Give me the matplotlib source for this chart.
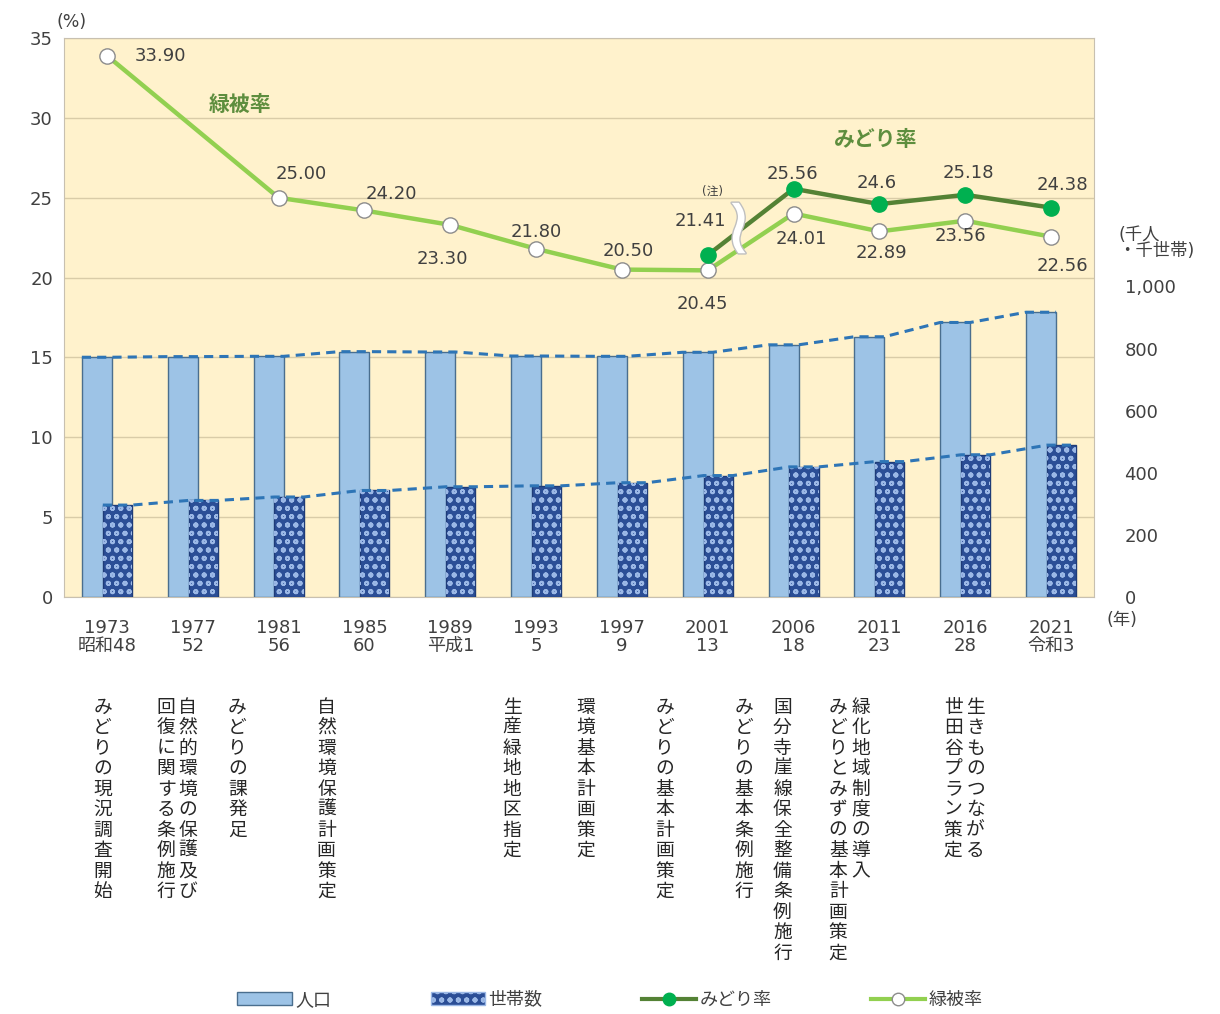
import matplotlib.pyplot as plt
import matplotlib.patheffects as pe
from matplotlib.patches import Patch
from matplotlib.lines import Line2D
from matplotlib.ticker import FuncFormatter
import numpy as np

plt.rcParams['font.family'] = ['DejaVu Sans', 'Noto Sans CJK JP']
plt.rcParams['hatch.linewidth'] = 1.3

# data
years = ['1973\n昭和48', '1977\n52', '1981\n56', '1985\n60', '1989\n平成1', '1993\n5',
         '1997\n9', '2001\n13', '2006\n18', '2011\n23', '2016\n28', '2021\n令和3']
population = [772, 774, 775, 790, 789, 776, 775, 788, 812, 838, 884, 917]
households = [296, 311, 322, 343, 355, 358, 368, 391, 419, 436, 458, 489]
ryokuhi = [33.90, np.nan, 25.00, 24.20, 23.30, 21.80, 20.50, 20.45, 24.01, 22.89, 23.56, 22.56]
midori = [np.nan] * 7 + [21.41, 25.56, 24.6, 25.18, 24.38]
events = ['みどりの現況調査開始', '自然的環境の保護及び', '回復に関する条例施行', 'みどりの課発足',
          '自然環境保護計画策定', '生産緑地地区指定', '環境基本計画策定', 'みどりの基本計画策定',
          'みどりの基本条例施行', '国分寺崖線保全整備条例施行', '緑化地域制度の導入',
          'みどりとみずの基本計画策定', '生きものつながる', '世田谷プラン策定']

# layout
event_x = [-0.05, 0.94, 0.69, 1.52, 2.56, 4.72, 5.58, 6.50, 7.42, 7.87, 8.78, 8.52, 10.12, 9.86]
ryokuhi_off = [(54, 0), None, (23, 24), (27, 16), (-8, -34), (0, 17), (6, 19), (-5, -34),
               (8, -25), (2, -22), (-5, -15), (11, -29)]
midori_off = [None] * 7 + [(-7, 34), (-1, 15), (-3, 21), (3, 22), (11, 23)]

x = np.arange(len(years))
bg = '#FFF2CC'
pop_color = '#9DC3E6'
hh_color = '#2B4E96'
light_green = '#92D050'
dark_green = '#548235'
dot_green = '#00B050'
label_green = '#5E8E3E'
txt = '#404040'

fig = plt.figure(figsize=(12.2, 10.14), dpi=100)
ax = fig.add_axes([64 / 1220, 1 - 597 / 1014, (1094 - 64) / 1220, (597 - 38) / 1014])
ax2 = ax.twinx()
ax3 = ax.twinx()

ax.set_facecolor(bg)
ax.set_xlim(-0.5, len(years) - 0.5)
ax.set_ylim(0, 35)
ax.set_yticks(range(0, 36, 5))
ax.yaxis.grid(True, color='#D9CCA8', linewidth=1)
ax.set_axisbelow(True)
ax.set_xticks(x)
ax.set_xticklabels(years, fontsize=12.5, color=txt, linespacing=1.0)
ax.tick_params(axis='both', length=0, labelsize=13, colors=txt)
ax.tick_params(axis='x', pad=16)
ax.tick_params(axis='y', pad=8)
for s in ax.spines.values():
    s.set_color('#C8C0B0')

# bars on the right axis
ax2.set_ylim(0, 1800)
ax2.set_yticks(range(0, 1001, 200))
ax2.yaxis.set_major_formatter(FuncFormatter(lambda v, p: f'{int(v):,}'))
ax2.tick_params(axis='y', length=0, labelsize=13, colors=txt, pad=22)
for s in ax2.spines.values():
    s.set_visible(False)

bw_p, bw_h = 0.35, 0.34
off_p, off_h = -0.117, 0.122
ax2.bar(x + off_p, population, bw_p, color=pop_color, edgecolor='#4A6E8E', linewidth=1.0)
ax2.bar(x + off_h, households, bw_h, color=hh_color, edgecolor='#1F3C78', linewidth=1.0)
ax2.bar(x + off_h, households, bw_h, fill=False, hatch='oo', edgecolor='#9BB8E6', linewidth=0)

# series lines connecting bar tops
def series_line(vals, off, w):
    xs, ys = [], []
    for i, v in enumerate(vals):
        xs += [i + off - w / 2, i + off + w / 2]
        ys += [v, v]
    ax2.plot(xs, ys, ls=(0, (3, 2)), color='#2E75B6', lw=2.2, zorder=3)

series_line(population, off_p, bw_p)
series_line(households, off_h, bw_h)

# lines on left scale
ax3.set_ylim(0, 35)
ax3.set_yticks([])
for s in ax3.spines.values():
    s.set_visible(False)

r = np.array(ryokuhi)
m = ~np.isnan(r)
ax3.plot(x[m], r[m], color=light_green, lw=3.2, marker='o', ms=11,
         mfc='white', mec='#8C8C8C', mew=1.0, zorder=4)
md = np.array(midori)
mm = ~np.isnan(md)
ax3.plot(x[mm], md[mm], color=dark_green, lw=3.2, marker='o', ms=11,
         mfc=dot_green, mec=dot_green, zorder=5)

for i, v in enumerate(ryokuhi):
    if ryokuhi_off[i] is not None:
        ax3.annotate(f'{v:.2f}', (i, v), xytext=ryokuhi_off[i], textcoords='offset pixels',
                     ha='center', va='center', fontsize=13, color=txt, zorder=6)
for i, v in enumerate(midori):
    if midori_off[i] is not None:
        ax3.annotate(f'{v:g}', (i, v), xytext=midori_off[i], textcoords='offset pixels',
                     ha='center', va='center', fontsize=13, color=txt, zorder=6)

ax3.text(1.55, 30.8, '緑被率', fontsize=15, fontweight='bold', color=label_green,
         ha='center', va='center')
ax3.text(8.96, 28.6, 'みどり率', fontsize=15, fontweight='bold', color=label_green,
         ha='center', va='center')
ax3.text(7.05, 25.4, '(注)', fontsize=8.5, color=txt, ha='center', va='center')
ax3.text(7.36, 22.9, '≀', fontsize=58, color='white', ha='center', va='center', zorder=7,
         path_effects=[pe.withStroke(linewidth=2, foreground='#BFBFBF')])

# unit labels
fig.text(72 / 1220, 1 - 22 / 1014, '(%)', fontsize=12.5, color=txt, ha='center', va='center')
fig.text(1118 / 1220, 1 - 243 / 1014, '(千人\n・千世帯)', fontsize=12.5, color=txt,
         ha='left', va='center', linespacing=0.85)
fig.text(1122 / 1220, 1 - 620 / 1014, '(年)', fontsize=12.5, color=txt, ha='center', va='center')

# vertical event texts
trans = ax.get_xaxis_transform()
for ex, e in zip(event_x, events):
    ax.text(ex, -0.18, '\n'.join(e), transform=trans, ha='center', va='top',
            fontsize=13.5, color='#262626', linespacing=1.1, clip_on=False)

handles = [Patch(facecolor=pop_color, edgecolor='#4A6E8E'),
           Patch(facecolor=hh_color, edgecolor='#9BB8E6', hatch='oo'),
           Line2D([], [], color=dark_green, lw=3, marker='o', ms=9, mfc=dot_green, mec=dot_green),
           Line2D([], [], color=light_green, lw=3, marker='o', ms=9, mfc='white', mec='#8C8C8C')]
fig.legend(handles, ['人口', '世帯数', 'みどり率', '緑被率'], loc='center',
           bbox_to_anchor=(0.5, 1 - 1000 / 1014), ncol=4, frameon=False, fontsize=13,
           columnspacing=5.5, handlelength=3, handletextpad=0.2, labelcolor=txt)

fig.savefig('out.png', dpi=100)
